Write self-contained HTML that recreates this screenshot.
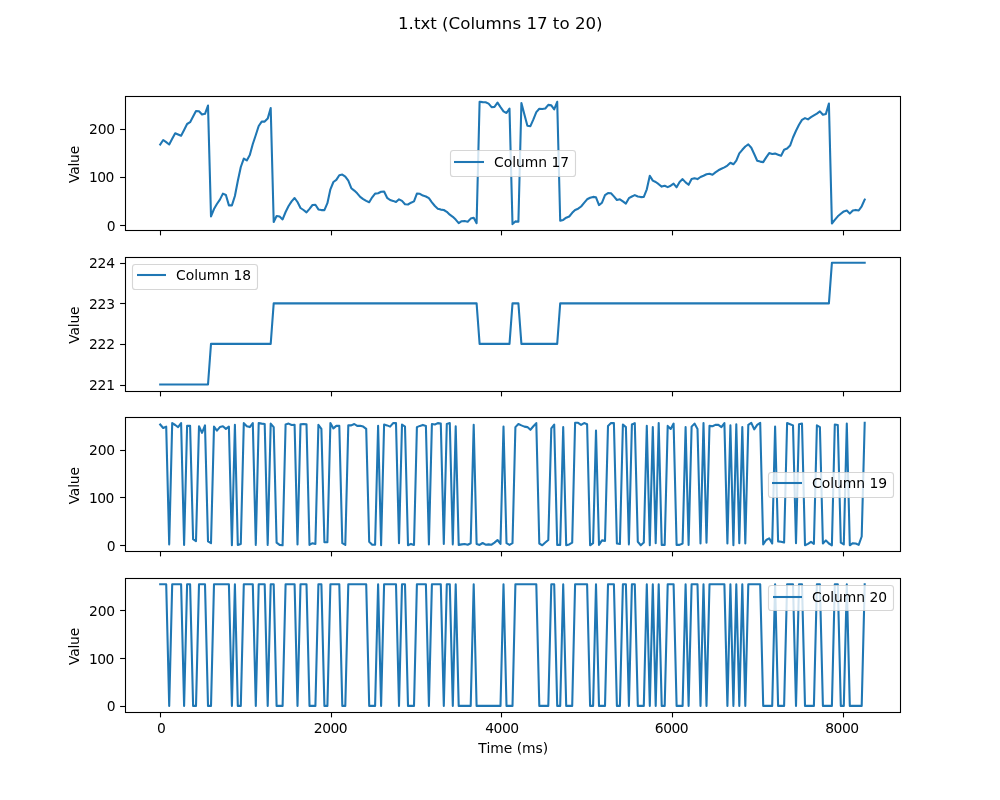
<!DOCTYPE html>
<html><head><meta charset="utf-8"><title>1.txt (Columns 17 to 20)</title>
<style>html,body{margin:0;padding:0;background:#fff}svg{display:block}text{font-family:"DejaVu Sans","Liberation Sans",sans-serif;fill:#000}</style></head><body>
<svg width="1000" height="800" viewBox="0 0 1000 800">
<rect width="1000" height="800" fill="#fff"/>
<text x="500.3" y="29.4" font-size="16.67" text-anchor="middle">1.txt (Columns 17 to 20)</text>
<clipPath id="c0"><rect x="125.0" y="96.00" width="775.0" height="133.91"/></clipPath>
<g stroke="#000" stroke-width="1.1" fill="none"><path d="M160.5 230.5v4.9"/><path d="M331.5 230.5v4.9"/><path d="M501.5 230.5v4.9"/><path d="M672.5 230.5v4.9"/><path d="M843.5 230.5v4.9"/><path d="M125.0 225.5h-4.9"/><path d="M125.0 177.5h-4.9"/><path d="M125.0 129.5h-4.9"/></g>
<text x="115.6" y="231.0" font-size="13.89" text-anchor="end" letter-spacing="0">0</text>
<text x="113.85" y="182.0" font-size="13.89" text-anchor="end" letter-spacing="-0.55">100</text>
<text x="114.85" y="134.0" font-size="13.89" text-anchor="end" letter-spacing="-0.25">200</text>
<text transform="translate(78.7 164.5) rotate(-90)" font-size="13.89" text-anchor="middle" letter-spacing="-0.2">Value</text>
<polyline clip-path="url(#c0)" points="160.2,144.5 163.2,140.0 166.2,142.2 169.2,144.5 172.2,138.8 175.2,133.2 178.1,134.5 181.1,135.8 184.1,130.0 187.1,124.0 190.1,122.2 193.1,116.5 196.0,111.0 199.0,111.2 202.0,114.5 205.0,113.8 208.0,105.5 211.0,216.4 214.0,209.0 216.9,204.0 219.9,199.6 222.9,193.6 225.9,195.0 228.9,205.4 231.9,205.4 234.9,196.0 237.8,181.0 240.8,167.0 243.8,158.6 246.8,160.4 249.8,155.0 252.8,144.0 255.8,135.0 258.7,126.0 261.7,121.6 264.7,121.6 267.7,118.6 270.7,108.0 273.7,222.0 276.6,216.0 279.6,216.6 282.6,219.4 285.6,212.0 288.6,206.0 291.6,201.4 294.6,198.0 297.5,202.0 300.5,208.0 303.5,210.0 306.5,212.4 309.5,208.8 312.5,205.0 315.4,204.8 318.4,209.4 321.4,210.1 324.4,210.1 327.4,203.2 330.4,189.3 333.4,182.0 336.3,179.9 339.3,175.2 342.3,174.6 345.3,176.6 348.3,180.6 351.3,188.2 354.3,190.6 357.2,193.3 360.2,196.9 363.2,199.1 366.2,200.9 369.2,202.3 372.2,197.3 375.1,193.6 378.1,193.3 381.1,191.8 384.1,191.5 387.1,197.8 390.1,200.0 393.1,200.9 396.0,202.0 399.0,199.3 402.0,200.9 405.0,204.2 408.0,204.5 411.0,202.7 414.0,201.4 416.9,193.6 419.9,193.8 422.9,195.6 425.9,196.5 428.9,198.2 431.9,202.3 434.9,206.0 437.8,208.7 440.8,209.6 443.8,210.0 446.8,211.8 449.8,214.7 452.8,216.8 455.7,219.6 458.7,223.2 461.7,221.2 464.7,221.0 467.7,221.7 470.7,218.6 473.7,217.7 476.6,223.2 479.6,101.8 482.6,102.1 485.6,102.3 488.6,103.6 491.6,107.2 494.5,106.9 497.5,102.7 500.5,107.2 503.5,111.4 506.5,113.0 509.5,108.7 512.5,224.1 515.4,221.4 518.4,221.7 521.4,103.0 524.4,114.5 527.4,125.7 530.4,126.2 533.4,119.4 536.3,112.1 539.3,108.7 542.3,109.0 545.3,108.5 548.3,104.9 551.3,105.4 554.2,109.4 557.2,101.8 560.2,220.8 563.2,219.9 566.2,217.7 569.2,216.5 572.2,212.8 575.1,210.0 578.1,208.7 581.1,206.5 584.1,202.9 587.1,199.3 590.1,197.8 593.1,196.9 596.0,197.3 599.0,205.1 602.0,202.7 605.0,195.1 608.0,193.1 611.0,193.3 613.9,196.4 616.9,200.0 619.9,199.3 622.9,201.4 625.9,203.6 628.9,198.2 631.9,196.5 634.8,195.1 637.8,196.5 640.8,197.1 643.8,196.9 646.8,189.3 649.8,175.7 652.8,180.6 655.7,182.0 658.7,184.2 661.7,186.6 664.7,185.7 667.7,187.1 670.7,185.7 673.6,183.7 676.6,187.3 679.6,182.0 682.6,179.1 685.6,182.4 688.6,184.8 691.6,179.1 694.5,178.2 697.5,179.1 700.5,177.0 703.5,175.7 706.5,174.3 709.5,173.7 712.5,174.8 715.4,172.4 718.4,170.3 721.4,168.8 724.4,167.4 727.4,165.6 730.4,162.8 733.4,164.3 736.3,160.7 739.3,153.4 742.3,149.8 745.3,146.5 748.3,144.4 751.3,147.8 754.2,154.0 757.2,160.7 760.2,161.6 763.2,162.1 766.2,157.4 769.2,153.1 772.2,154.0 775.1,153.6 778.1,154.7 781.1,155.8 784.1,149.8 787.1,148.5 790.1,145.6 793.0,137.5 796.0,130.8 799.0,124.8 802.0,119.9 805.0,118.1 808.0,119.4 811.0,117.2 813.9,115.4 816.9,113.6 819.9,111.4 822.9,114.8 825.9,113.9 828.9,103.6 831.9,223.5 834.8,219.9 837.8,216.3 840.8,213.8 843.8,211.4 846.8,210.5 849.8,213.6 852.8,210.5 855.7,209.9 858.7,210.5 861.7,206.3 864.7,199.6" fill="none" stroke="#1f77b4" stroke-width="2.08" stroke-linejoin="round" stroke-linecap="square"/>
<rect x="125.5" y="96.5" width="775.0" height="134" fill="none" stroke="#000" stroke-width="1.1"/>
<rect x="450.5" y="150.5" width="125" height="26" rx="2.8" fill="#fff" fill-opacity="0.8" stroke="#ccc" stroke-opacity="0.8" stroke-width="1.1"/>
<path d="M454 162h30" stroke="#1f77b4" stroke-width="2.08"/>
<text x="494.0" y="167.0" font-size="13.89">Column 17</text>
<clipPath id="c1"><rect x="125.0" y="256.70" width="775.0" height="133.91"/></clipPath>
<g stroke="#000" stroke-width="1.1" fill="none"><path d="M160.5 391.5v4.9"/><path d="M331.5 391.5v4.9"/><path d="M501.5 391.5v4.9"/><path d="M672.5 391.5v4.9"/><path d="M843.5 391.5v4.9"/><path d="M125.0 385.5h-4.9"/><path d="M125.0 344.5h-4.9"/><path d="M125.0 303.5h-4.9"/><path d="M125.0 263.5h-4.9"/></g>
<text x="114.95" y="389.7" font-size="13.89" text-anchor="end" letter-spacing="-0.15">221</text>
<text x="114.95" y="349.1" font-size="13.89" text-anchor="end" letter-spacing="-0.15">222</text>
<text x="114.95" y="308.6" font-size="13.89" text-anchor="end" letter-spacing="-0.15">223</text>
<text x="114.95" y="268.0" font-size="13.89" text-anchor="end" letter-spacing="-0.15">224</text>
<text transform="translate(78.7 325.2) rotate(-90)" font-size="13.89" text-anchor="middle" letter-spacing="-0.2">Value</text>
<polyline clip-path="url(#c1)" points="160.2,384.5 163.2,384.5 166.2,384.5 169.2,384.5 172.2,384.5 175.2,384.5 178.1,384.5 181.1,384.5 184.1,384.5 187.1,384.5 190.1,384.5 193.1,384.5 196.0,384.5 199.0,384.5 202.0,384.5 205.0,384.5 208.0,384.5 211.0,343.9 214.0,343.9 216.9,343.9 219.9,343.9 222.9,343.9 225.9,343.9 228.9,343.9 231.9,343.9 234.9,343.9 237.8,343.9 240.8,343.9 243.8,343.9 246.8,343.9 249.8,343.9 252.8,343.9 255.8,343.9 258.7,343.9 261.7,343.9 264.7,343.9 267.7,343.9 270.7,343.9 273.7,303.4 276.6,303.4 279.6,303.4 282.6,303.4 285.6,303.4 288.6,303.4 291.6,303.4 294.6,303.4 297.5,303.4 300.5,303.4 303.5,303.4 306.5,303.4 309.5,303.4 312.5,303.4 315.4,303.4 318.4,303.4 321.4,303.4 324.4,303.4 327.4,303.4 330.4,303.4 333.4,303.4 336.3,303.4 339.3,303.4 342.3,303.4 345.3,303.4 348.3,303.4 351.3,303.4 354.3,303.4 357.2,303.4 360.2,303.4 363.2,303.4 366.2,303.4 369.2,303.4 372.2,303.4 375.1,303.4 378.1,303.4 381.1,303.4 384.1,303.4 387.1,303.4 390.1,303.4 393.1,303.4 396.0,303.4 399.0,303.4 402.0,303.4 405.0,303.4 408.0,303.4 411.0,303.4 414.0,303.4 416.9,303.4 419.9,303.4 422.9,303.4 425.9,303.4 428.9,303.4 431.9,303.4 434.9,303.4 437.8,303.4 440.8,303.4 443.8,303.4 446.8,303.4 449.8,303.4 452.8,303.4 455.7,303.4 458.7,303.4 461.7,303.4 464.7,303.4 467.7,303.4 470.7,303.4 473.7,303.4 476.6,303.4 479.6,343.9 482.6,343.9 485.6,343.9 488.6,343.9 491.6,343.9 494.5,343.9 497.5,343.9 500.5,343.9 503.5,343.9 506.5,343.9 509.5,343.9 512.5,303.4 515.4,303.4 518.4,303.4 521.4,343.9 524.4,343.9 527.4,343.9 530.4,343.9 533.4,343.9 536.3,343.9 539.3,343.9 542.3,343.9 545.3,343.9 548.3,343.9 551.3,343.9 554.2,343.9 557.2,343.9 560.2,303.4 563.2,303.4 566.2,303.4 569.2,303.4 572.2,303.4 575.1,303.4 578.1,303.4 581.1,303.4 584.1,303.4 587.1,303.4 590.1,303.4 593.1,303.4 596.0,303.4 599.0,303.4 602.0,303.4 605.0,303.4 608.0,303.4 611.0,303.4 613.9,303.4 616.9,303.4 619.9,303.4 622.9,303.4 625.9,303.4 628.9,303.4 631.9,303.4 634.8,303.4 637.8,303.4 640.8,303.4 643.8,303.4 646.8,303.4 649.8,303.4 652.8,303.4 655.7,303.4 658.7,303.4 661.7,303.4 664.7,303.4 667.7,303.4 670.7,303.4 673.6,303.4 676.6,303.4 679.6,303.4 682.6,303.4 685.6,303.4 688.6,303.4 691.6,303.4 694.5,303.4 697.5,303.4 700.5,303.4 703.5,303.4 706.5,303.4 709.5,303.4 712.5,303.4 715.4,303.4 718.4,303.4 721.4,303.4 724.4,303.4 727.4,303.4 730.4,303.4 733.4,303.4 736.3,303.4 739.3,303.4 742.3,303.4 745.3,303.4 748.3,303.4 751.3,303.4 754.2,303.4 757.2,303.4 760.2,303.4 763.2,303.4 766.2,303.4 769.2,303.4 772.2,303.4 775.1,303.4 778.1,303.4 781.1,303.4 784.1,303.4 787.1,303.4 790.1,303.4 793.0,303.4 796.0,303.4 799.0,303.4 802.0,303.4 805.0,303.4 808.0,303.4 811.0,303.4 813.9,303.4 816.9,303.4 819.9,303.4 822.9,303.4 825.9,303.4 828.9,303.4 831.9,262.8 834.8,262.8 837.8,262.8 840.8,262.8 843.8,262.8 846.8,262.8 849.8,262.8 852.8,262.8 855.7,262.8 858.7,262.8 861.7,262.8 864.7,262.8" fill="none" stroke="#1f77b4" stroke-width="2.08" stroke-linejoin="round" stroke-linecap="square"/>
<rect x="125.5" y="257.5" width="775.0" height="134" fill="none" stroke="#000" stroke-width="1.1"/>
<rect x="132.5" y="264.5" width="125" height="25" rx="2.8" fill="#fff" fill-opacity="0.8" stroke="#ccc" stroke-opacity="0.8" stroke-width="1.1"/>
<path d="M137 275h29" stroke="#1f77b4" stroke-width="2.08"/>
<text x="176.0" y="279.9" font-size="13.89">Column 18</text>
<clipPath id="c2"><rect x="125.0" y="417.39" width="775.0" height="133.91"/></clipPath>
<g stroke="#000" stroke-width="1.1" fill="none"><path d="M160.5 551.5v4.9"/><path d="M331.5 551.5v4.9"/><path d="M501.5 551.5v4.9"/><path d="M672.5 551.5v4.9"/><path d="M843.5 551.5v4.9"/><path d="M125.0 545.5h-4.9"/><path d="M125.0 497.5h-4.9"/><path d="M125.0 450.5h-4.9"/></g>
<text x="115.6" y="551.0" font-size="13.89" text-anchor="end" letter-spacing="0">0</text>
<text x="113.85" y="503.0" font-size="13.89" text-anchor="end" letter-spacing="-0.55">100</text>
<text x="114.85" y="455.0" font-size="13.89" text-anchor="end" letter-spacing="-0.25">200</text>
<text transform="translate(78.7 485.8) rotate(-90)" font-size="13.89" text-anchor="middle" letter-spacing="-0.2">Value</text>
<polyline clip-path="url(#c2)" points="160.2,424.5 163.2,428.0 166.2,426.6 169.2,544.4 172.2,423.1 175.2,425.0 178.1,427.1 181.1,423.1 184.1,544.9 187.1,425.9 190.1,425.9 193.1,539.1 196.0,541.2 199.0,426.3 202.0,432.9 205.0,425.4 208.0,541.4 211.0,543.2 214.0,426.6 216.9,430.6 219.9,427.1 222.9,426.3 225.9,428.9 228.9,426.6 231.9,545.3 234.9,424.9 237.8,544.9 240.8,543.9 243.8,423.1 246.8,426.3 249.8,427.1 252.8,423.1 255.8,544.9 258.7,423.1 261.7,423.6 264.7,424.0 267.7,544.9 270.7,423.6 273.7,427.1 276.6,542.6 279.6,544.9 282.6,545.3 285.6,424.5 288.6,423.6 291.6,425.0 294.6,424.9 297.5,544.4 300.5,424.2 303.5,424.0 306.5,424.2 309.5,544.9 312.5,543.2 315.4,544.0 318.4,424.9 321.4,428.9 324.4,542.3 327.4,542.3 330.4,423.1 333.4,428.4 336.3,425.9 339.3,425.9 342.3,543.2 345.3,544.9 348.3,425.4 351.3,425.4 354.3,424.0 357.2,425.9 360.2,425.7 363.2,426.6 366.2,428.9 369.2,541.8 372.2,544.7 375.1,544.7 378.1,425.9 381.1,545.3 384.1,424.5 387.1,425.4 390.1,426.6 393.1,423.1 396.0,423.1 399.0,543.2 402.0,424.5 405.0,426.6 408.0,545.3 411.0,543.9 414.0,544.9 416.9,427.1 419.9,425.9 422.9,424.9 425.9,425.9 428.9,544.4 431.9,424.0 434.9,424.5 437.8,423.1 440.8,423.6 443.8,543.9 446.8,424.0 449.8,423.1 452.8,544.4 455.7,426.3 458.7,544.9 461.7,544.4 464.7,544.0 467.7,544.7 470.7,543.2 473.7,424.9 476.6,543.9 479.6,544.9 482.6,543.0 485.6,544.7 488.6,544.4 491.6,544.7 494.5,542.6 497.5,540.0 500.5,543.9 503.5,426.6 506.5,543.2 509.5,544.9 512.5,543.2 515.4,427.1 518.4,424.0 521.4,425.4 524.4,426.6 527.4,427.1 530.4,429.8 533.4,426.3 536.3,423.1 539.3,543.5 542.3,545.3 545.3,542.6 548.3,540.0 551.3,428.4 554.2,424.5 557.2,544.9 560.2,544.9 563.2,427.1 566.2,545.3 569.2,544.4 572.2,542.6 575.1,422.8 578.1,422.8 581.1,424.9 584.1,423.1 587.1,424.2 590.1,545.3 593.1,543.2 596.0,430.6 599.0,544.9 602.0,540.4 605.0,540.9 608.0,425.9 611.0,423.1 613.9,423.1 616.9,543.5 619.9,544.0 622.9,424.5 625.9,427.1 628.9,544.4 631.9,424.5 634.8,423.1 637.8,541.8 640.8,545.3 643.8,542.6 646.8,425.9 649.8,545.3 652.8,427.1 655.7,543.2 658.7,423.1 661.7,544.9 664.7,544.9 667.7,425.9 670.7,428.9 673.6,423.6 676.6,544.9 679.6,544.9 682.6,543.5 685.6,427.1 688.6,544.9 691.6,426.6 694.5,423.6 697.5,428.9 700.5,543.5 703.5,423.1 706.5,542.6 709.5,425.9 712.5,426.3 715.4,424.9 718.4,424.9 721.4,427.1 724.4,423.1 727.4,543.5 730.4,425.4 733.4,545.3 736.3,424.2 739.3,543.2 742.3,427.1 745.3,543.5 748.3,424.9 751.3,422.8 754.2,429.4 757.2,424.9 760.2,422.8 763.2,544.4 766.2,540.0 769.2,538.3 772.2,543.5 775.1,426.6 778.1,541.4 781.1,541.8 784.1,542.6 787.1,423.1 790.1,424.2 793.0,425.4 796.0,543.2 799.0,424.2 802.0,423.6 805.0,545.3 808.0,543.9 811.0,541.8 813.9,543.9 816.9,425.4 819.9,427.1 822.9,543.5 825.9,540.4 828.9,543.5 831.9,545.3 834.8,424.5 837.8,425.0 840.8,542.6 843.8,544.4 846.8,423.6 849.8,545.3 852.8,543.2 855.7,543.5 858.7,544.9 861.7,536.5 864.7,422.8" fill="none" stroke="#1f77b4" stroke-width="2.08" stroke-linejoin="round" stroke-linecap="square"/>
<rect x="125.5" y="417.5" width="775.0" height="134" fill="none" stroke="#000" stroke-width="1.1"/>
<rect x="768.5" y="472.5" width="125" height="25" rx="2.8" fill="#fff" fill-opacity="0.8" stroke="#ccc" stroke-opacity="0.8" stroke-width="1.1"/>
<path d="M772 483h30" stroke="#1f77b4" stroke-width="2.08"/>
<text x="812.0" y="488.3" font-size="13.89">Column 19</text>
<clipPath id="c3"><rect x="125.0" y="578.09" width="775.0" height="133.91"/></clipPath>
<g stroke="#000" stroke-width="1.1" fill="none"><path d="M160.5 712.5v4.9"/><path d="M331.5 712.5v4.9"/><path d="M501.5 712.5v4.9"/><path d="M672.5 712.5v4.9"/><path d="M843.5 712.5v4.9"/><path d="M125.0 706.5h-4.9"/><path d="M125.0 658.5h-4.9"/><path d="M125.0 610.5h-4.9"/></g>
<text x="115.6" y="711.0" font-size="13.89" text-anchor="end" letter-spacing="0">0</text>
<text x="113.85" y="664.0" font-size="13.89" text-anchor="end" letter-spacing="-0.55">100</text>
<text x="114.85" y="616.0" font-size="13.89" text-anchor="end" letter-spacing="-0.25">200</text>
<text x="161.5" y="733" font-size="13.89" text-anchor="middle" letter-spacing="0">0</text>
<text x="330.5" y="733" font-size="13.89" text-anchor="middle" letter-spacing="-0.5">2000</text>
<text x="501.9" y="733" font-size="13.89" text-anchor="middle" letter-spacing="-0.5">4000</text>
<text x="671.5" y="733" font-size="13.89" text-anchor="middle" letter-spacing="-0.5">6000</text>
<text x="841.9" y="733" font-size="13.89" text-anchor="middle" letter-spacing="-0.5">8000</text>
<text transform="translate(78.7 646.5) rotate(-90)" font-size="13.89" text-anchor="middle" letter-spacing="-0.2">Value</text>
<polyline clip-path="url(#c3)" points="160.2,584.2 163.2,584.2 166.2,584.2 169.2,705.9 172.2,584.2 175.2,584.2 178.1,584.2 181.1,584.2 184.1,705.9 187.1,584.2 190.1,584.2 193.1,705.9 196.0,705.9 199.0,584.2 202.0,584.2 205.0,584.2 208.0,705.9 211.0,705.9 214.0,584.2 216.9,584.2 219.9,584.2 222.9,584.2 225.9,584.2 228.9,584.2 231.9,705.9 234.9,584.2 237.8,705.9 240.8,705.9 243.8,584.2 246.8,584.2 249.8,584.2 252.8,584.2 255.8,705.9 258.7,584.2 261.7,584.2 264.7,584.2 267.7,705.9 270.7,584.2 273.7,584.2 276.6,705.9 279.6,705.9 282.6,705.9 285.6,584.2 288.6,584.2 291.6,584.2 294.6,584.2 297.5,705.9 300.5,584.2 303.5,584.2 306.5,584.2 309.5,705.9 312.5,705.9 315.4,705.9 318.4,584.2 321.4,584.2 324.4,705.9 327.4,705.9 330.4,584.2 333.4,584.2 336.3,584.2 339.3,584.2 342.3,705.9 345.3,705.9 348.3,584.2 351.3,584.2 354.3,584.2 357.2,584.2 360.2,584.2 363.2,584.2 366.2,584.2 369.2,705.9 372.2,705.9 375.1,705.9 378.1,584.2 381.1,705.9 384.1,584.2 387.1,584.2 390.1,584.2 393.1,584.2 396.0,584.2 399.0,705.9 402.0,584.2 405.0,584.2 408.0,705.9 411.0,705.9 414.0,705.9 416.9,584.2 419.9,584.2 422.9,584.2 425.9,584.2 428.9,705.9 431.9,584.2 434.9,584.2 437.8,584.2 440.8,584.2 443.8,705.9 446.8,584.2 449.8,584.2 452.8,705.9 455.7,584.2 458.7,705.9 461.7,705.9 464.7,705.9 467.7,705.9 470.7,705.9 473.7,584.2 476.6,705.9 479.6,705.9 482.6,705.9 485.6,705.9 488.6,705.9 491.6,705.9 494.5,705.9 497.5,705.9 500.5,705.9 503.5,584.2 506.5,705.9 509.5,705.9 512.5,705.9 515.4,584.2 518.4,584.2 521.4,584.2 524.4,584.2 527.4,584.2 530.4,584.2 533.4,584.2 536.3,584.2 539.3,705.9 542.3,705.9 545.3,705.9 548.3,705.9 551.3,584.2 554.2,584.2 557.2,705.9 560.2,705.9 563.2,584.2 566.2,705.9 569.2,705.9 572.2,705.9 575.1,584.2 578.1,584.2 581.1,584.2 584.1,584.2 587.1,584.2 590.1,705.9 593.1,705.9 596.0,584.2 599.0,705.9 602.0,705.9 605.0,705.9 608.0,584.2 611.0,584.2 613.9,584.2 616.9,705.9 619.9,705.9 622.9,584.2 625.9,584.2 628.9,705.9 631.9,584.2 634.8,584.2 637.8,705.9 640.8,705.9 643.8,705.9 646.8,584.2 649.8,705.9 652.8,584.2 655.7,705.9 658.7,584.2 661.7,705.9 664.7,705.9 667.7,584.2 670.7,584.2 673.6,584.2 676.6,705.9 679.6,705.9 682.6,705.9 685.6,584.2 688.6,705.9 691.6,584.2 694.5,584.2 697.5,584.2 700.5,705.9 703.5,584.2 706.5,705.9 709.5,584.2 712.5,584.2 715.4,584.2 718.4,584.2 721.4,584.2 724.4,584.2 727.4,705.9 730.4,584.2 733.4,705.9 736.3,584.2 739.3,705.9 742.3,584.2 745.3,705.9 748.3,584.2 751.3,584.2 754.2,584.2 757.2,584.2 760.2,584.2 763.2,705.9 766.2,705.9 769.2,705.9 772.2,705.9 775.1,584.2 778.1,705.9 781.1,705.9 784.1,705.9 787.1,584.2 790.1,584.2 793.0,584.2 796.0,705.9 799.0,584.2 802.0,584.2 805.0,705.9 808.0,705.9 811.0,705.9 813.9,705.9 816.9,584.2 819.9,584.2 822.9,705.9 825.9,705.9 828.9,705.9 831.9,705.9 834.8,584.2 837.8,584.2 840.8,705.9 843.8,705.9 846.8,584.2 849.8,705.9 852.8,705.9 855.7,705.9 858.7,705.9 861.7,705.9 864.7,584.2" fill="none" stroke="#1f77b4" stroke-width="2.08" stroke-linejoin="round" stroke-linecap="square"/>
<rect x="125.5" y="578.5" width="775.0" height="134" fill="none" stroke="#000" stroke-width="1.1"/>
<rect x="768.5" y="585.5" width="125" height="25" rx="2.8" fill="#fff" fill-opacity="0.8" stroke="#ccc" stroke-opacity="0.8" stroke-width="1.1"/>
<path d="M773 597h29" stroke="#1f77b4" stroke-width="2.08"/>
<text x="812.0" y="601.6" font-size="13.89">Column 20</text>
<text x="513.3" y="752.8" font-size="13.89" text-anchor="middle">Time (ms)</text>
</svg></body></html>
